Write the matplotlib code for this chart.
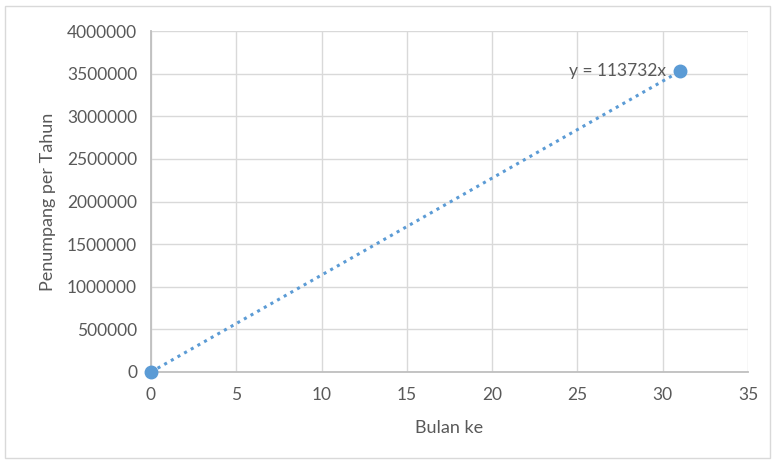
import matplotlib
matplotlib.use("Agg")
import matplotlib.pyplot as plt
from matplotlib.patches import Rectangle
import numpy as np

x_vals = [0, 31]
y_vals = [0, 3525692]
slope = 113732
x_ticks = [0, 5, 10, 15, 20, 25, 30, 35]
y_ticks = [0, 500000, 1000000, 1500000, 2000000, 2500000, 3000000, 3500000, 4000000]
x_label = "Bulan ke"
y_label = "Penumpang per Tahun"
eq_label = "y = 113732x"

plt.rcParams['font.family'] = ['Lato', 'DejaVu Sans']
txt = '#595959'
blue = '#5B9BD5'

fig = plt.figure(figsize=(7.76, 4.63), dpi=100)
fig.patches.append(Rectangle((5/776, 5/463), 765/776, 452/463, transform=fig.transFigure,
                             fill=False, edgecolor='#D9D9D9', linewidth=1))
ax = fig.add_axes([151/776, 91/463, 597/776, 341/463])
ax.set_xlim(0, 35)
ax.set_ylim(0, 4000000)
ax.set_xticks(x_ticks)
ax.set_yticks(y_ticks)
ax.set_xticklabels([str(v) for v in x_ticks])
ax.set_yticklabels([str(v) for v in y_ticks])
ax.grid(True, color='#D9D9D9', linewidth=1)
ax.set_axisbelow(True)
for s in ['top', 'right']:
    ax.spines[s].set_visible(False)
for s in ['left', 'bottom']:
    ax.spines[s].set_color('#BFBFBF')
    ax.spines[s].set_linewidth(1.3)
ax.tick_params(axis='y', length=0, labelsize=12.5, colors=txt, pad=10)
ax.tick_params(axis='x', length=0, labelsize=12.5, colors=txt, pad=11)

xt = np.array([min(x_vals), max(x_vals)])
ax.plot(xt, slope * xt, linestyle=(0, (1, 1.5)), color=blue, linewidth=2.2, zorder=3)
ax.plot(x_vals, y_vals, 'o', color=blue, markersize=9, zorder=4, clip_on=False)
ax.text(30.2, y_vals[1], eq_label, ha='right', va='center', fontsize=12.5, color=txt)

ax.set_xlabel(x_label, fontsize=13, color=txt, labelpad=12)
ax.set_ylabel(y_label, fontsize=13, color=txt, labelpad=8)

fig.savefig('out.png', dpi=100)
